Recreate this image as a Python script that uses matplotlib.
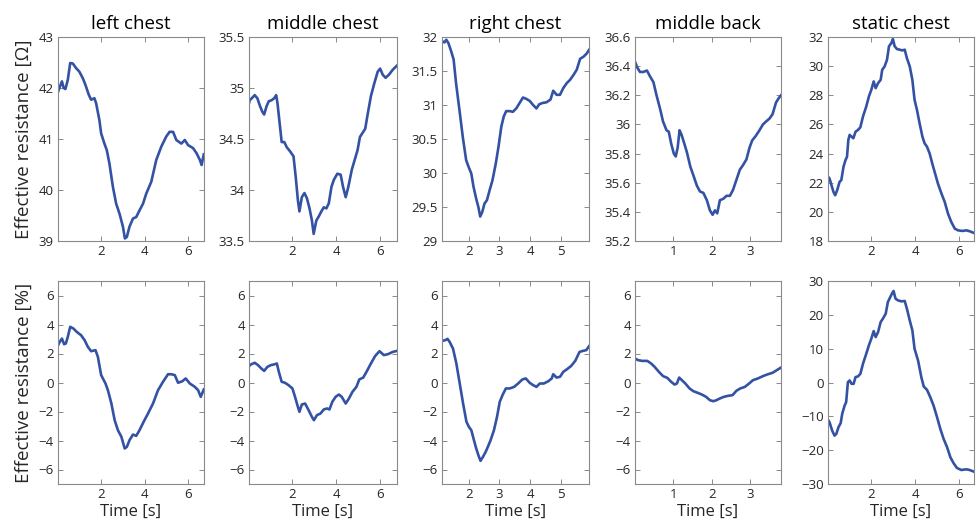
import matplotlib
matplotlib.use('Agg')
import matplotlib.pyplot as plt

plt.rcParams['font.family'] = ['Open Sans', 'DejaVu Sans']

titles = ['left chest', 'middle chest', 'right chest', 'middle back', 'static chest']

# left chest
lc_t = [0.0, 0.1, 0.2, 0.28, 0.36, 0.47, 0.58, 0.7, 0.85, 1.0, 1.16, 1.28, 1.43, 1.54,
        1.69, 1.77, 1.92, 2.0, 2.15, 2.26, 2.38, 2.54, 2.69, 2.84, 3.0, 3.09, 3.18, 3.3,
        3.46, 3.61, 3.76, 3.92, 4.07, 4.3, 4.53, 4.76, 4.99, 5.14, 5.3, 5.45, 5.68, 5.84,
        5.99, 6.22, 6.38, 6.53, 6.61, 6.71]
lc_ohm = [41.9, 42.02, 42.13, 42.0, 41.98, 42.16, 42.49, 42.48, 42.39, 42.32, 42.19, 42.06,
          41.87, 41.77, 41.8, 41.7, 41.37, 41.11, 40.91, 40.78, 40.52, 40.06, 39.73, 39.54,
          39.28, 39.05, 39.08, 39.28, 39.44, 39.47, 39.6, 39.73, 39.93, 40.16, 40.59, 40.85,
          41.05, 41.14, 41.14, 40.98, 40.91, 40.98, 40.88, 40.82, 40.72, 40.59, 40.49, 40.7]
lc_t2 = [0.0, 0.1, 0.2, 0.3, 0.38, 0.47, 0.58, 0.73, 0.88, 1.08, 1.24, 1.39, 1.54, 1.74,
         1.85, 2.0, 2.2, 2.31, 2.47, 2.62, 2.77, 2.93, 3.08, 3.18, 3.3, 3.46, 3.61, 3.76,
         3.95, 4.15, 4.38, 4.61, 4.84, 5.07, 5.22, 5.38, 5.53, 5.73, 5.88, 6.07, 6.3, 6.45,
         6.57, 6.71]
lc_pct = [2.5, 2.8, 3.03, 2.64, 2.69, 3.15, 3.84, 3.72, 3.49, 3.26, 2.92, 2.46, 2.16, 2.23,
          1.77, 0.51, -0.07, -0.53, -1.45, -2.6, -3.29, -3.75, -4.55, -4.44, -3.98, -3.59,
          -3.68, -3.29, -2.71, -2.14, -1.45, -0.53, 0.05, 0.57, 0.57, 0.51, -0.02, 0.09, 0.28,
          -0.07, -0.3, -0.53, -0.99, -0.48]

# middle chest
mc_t = [0.0, 0.05, 0.15, 0.28, 0.4, 0.51, 0.62, 0.71, 0.82, 0.92, 1.05, 1.17, 1.26, 1.32,
        1.42, 1.51, 1.63, 1.74, 1.89, 2.05, 2.15, 2.25, 2.32, 2.43, 2.55, 2.66, 2.78, 2.89,
        2.97, 3.09, 3.2, 3.32, 3.43, 3.55, 3.66, 3.78, 3.89, 4.05, 4.2, 4.31, 4.43, 4.55,
        4.71, 4.86, 4.97, 5.08, 5.2, 5.32, 5.43, 5.58, 5.74, 5.89, 6.0, 6.12, 6.25, 6.4,
        6.58, 6.77]
mc_ohm = [34.83, 34.88, 34.9, 34.93, 34.9, 34.83, 34.77, 34.74, 34.82, 34.87, 34.88, 34.9,
          34.93, 34.85, 34.65, 34.47, 34.47, 34.42, 34.38, 34.33, 34.13, 33.9, 33.79, 33.93,
          33.97, 33.92, 33.82, 33.7, 33.57, 33.7, 33.74, 33.79, 33.83, 33.82, 33.87, 34.03,
          34.1, 34.16, 34.15, 34.03, 33.93, 34.03, 34.2, 34.31, 34.39, 34.52, 34.56, 34.6,
          34.74, 34.92, 35.05, 35.16, 35.19, 35.13, 35.1, 35.13, 35.18, 35.22]
mc_t2 = [0.0, 0.1, 0.28, 0.43, 0.58, 0.71, 0.86, 1.02, 1.2, 1.29, 1.38, 1.51, 1.66, 1.82,
         2.0, 2.12, 2.25, 2.32, 2.43, 2.58, 2.74, 2.89, 2.98, 3.12, 3.28, 3.43, 3.58, 3.69,
         3.82, 3.97, 4.12, 4.25, 4.43, 4.58, 4.74, 4.92, 5.05, 5.23, 5.38, 5.58, 5.77, 5.97,
         6.17, 6.35, 6.58, 6.77]
mc_pct = [1.08, 1.24, 1.36, 1.2, 0.97, 0.8, 1.08, 1.2, 1.26, 1.31, 0.74, 0.05, -0.02, -0.18,
          -0.41, -0.99, -1.68, -2.02, -1.52, -1.45, -1.91, -2.37, -2.6, -2.25, -2.14, -1.86,
          -1.79, -1.86, -1.33, -0.99, -0.83, -0.99, -1.45, -1.1, -0.64, -0.3, 0.21, 0.34,
          0.74, 1.31, 1.82, 2.16, 1.89, 1.95, 2.11, 2.18]

# right chest
rc_t = [1.12, 1.2, 1.26, 1.33, 1.42, 1.5, 1.58, 1.69, 1.8, 1.91, 1.99, 2.08, 2.15, 2.24,
        2.31, 2.37, 2.44, 2.51, 2.59, 2.68, 2.77, 2.88, 2.97, 3.06, 3.14, 3.22, 3.33, 3.44,
        3.55, 3.66, 3.77, 3.88, 3.99, 4.1, 4.21, 4.3, 4.41, 4.54, 4.67, 4.76, 4.87, 4.98,
        5.09, 5.2, 5.31, 5.42, 5.53, 5.64, 5.75, 5.86, 5.93]
rc_ohm = [31.94, 31.92, 31.96, 31.91, 31.79, 31.67, 31.32, 30.93, 30.53, 30.19, 30.09, 29.99,
          29.8, 29.62, 29.5, 29.36, 29.43, 29.55, 29.6, 29.75, 29.89, 30.14, 30.39, 30.68,
          30.83, 30.91, 30.91, 30.9, 30.95, 31.03, 31.11, 31.09, 31.06, 31.0, 30.95, 31.01,
          31.03, 31.04, 31.08, 31.21, 31.15, 31.15, 31.25, 31.32, 31.37, 31.44, 31.52, 31.68,
          31.71, 31.76, 31.81]
rc_t2 = [1.12, 1.23, 1.3, 1.37, 1.48, 1.59, 1.7, 1.81, 1.92, 2.0, 2.08, 2.15, 2.24, 2.31,
         2.38, 2.46, 2.55, 2.62, 2.71, 2.82, 2.92, 3.01, 3.1, 3.21, 3.34, 3.48, 3.61, 3.75,
         3.86, 3.99, 4.1, 4.21, 4.32, 4.45, 4.6, 4.71, 4.76, 4.87, 4.98, 5.09, 5.2, 5.34,
         5.48, 5.62, 5.73, 5.84, 5.93]
rc_pct = [2.87, 2.92, 3.01, 2.8, 2.34, 1.31, -0.07, -1.45, -2.71, -3.06, -3.29, -3.86, -4.55,
          -5.01, -5.4, -5.13, -4.78, -4.44, -3.98, -3.29, -2.37, -1.33, -0.87, -0.41, -0.41,
          -0.3, -0.07, 0.21, 0.28, -0.02, -0.18, -0.3, -0.07, -0.07, 0.09, 0.28, 0.57, 0.34,
          0.39, 0.74, 0.9, 1.13, 1.49, 2.11, 2.18, 2.23, 2.5]

# middle back
mb_t = [0.0, 0.06, 0.13, 0.22, 0.31, 0.39, 0.48, 0.56, 0.65, 0.73, 0.82, 0.88, 0.94, 1.01,
        1.06, 1.11, 1.16, 1.21, 1.27, 1.35, 1.44, 1.52, 1.61, 1.69, 1.78, 1.87, 1.95, 2.02,
        2.08, 2.14, 2.21, 2.3, 2.38, 2.47, 2.55, 2.64, 2.73, 2.81, 2.9, 2.98, 3.05, 3.14,
        3.24, 3.33, 3.41, 3.5, 3.58, 3.67, 3.74, 3.8]
mb_ohm = [36.43, 36.39, 36.36, 36.36, 36.37, 36.33, 36.29, 36.2, 36.11, 36.02, 35.96, 35.95,
          35.87, 35.8, 35.78, 35.84, 35.96, 35.93, 35.88, 35.81, 35.71, 35.65, 35.58, 35.54,
          35.53, 35.48, 35.41, 35.38, 35.41, 35.39, 35.48, 35.49, 35.51, 35.51, 35.55, 35.62,
          35.69, 35.72, 35.76, 35.84, 35.89, 35.92, 35.96, 36.0, 36.02, 36.04, 36.07, 36.15,
          36.18, 36.2]
mb_t2 = [0.0, 0.08, 0.19, 0.32, 0.42, 0.51, 0.62, 0.73, 0.84, 0.94, 1.03, 1.09, 1.15, 1.22,
         1.31, 1.42, 1.52, 1.63, 1.74, 1.85, 1.95, 2.04, 2.12, 2.21, 2.31, 2.42, 2.54, 2.64,
         2.74, 2.86, 2.97, 3.07, 3.2, 3.33, 3.46, 3.58, 3.69, 3.8]
mb_pct = [1.66, 1.54, 1.49, 1.49, 1.31, 1.08, 0.74, 0.44, 0.32, 0.05, -0.14, -0.07, 0.34,
          0.16, -0.07, -0.41, -0.6, -0.71, -0.83, -0.99, -1.22, -1.29, -1.22, -1.1, -0.99,
          -0.92, -0.87, -0.57, -0.41, -0.3, -0.07, 0.16, 0.28, 0.44, 0.57, 0.67, 0.85, 1.03]

# static chest
sc_t = [0.0, 0.09, 0.18, 0.27, 0.35, 0.44, 0.55, 0.63, 0.73, 0.82, 0.89, 0.95, 1.01, 1.1,
        1.18, 1.28, 1.39, 1.5, 1.62, 1.77, 1.89, 2.0, 2.11, 2.2, 2.31, 2.43, 2.5, 2.61, 2.72,
        2.81, 2.92, 2.99, 3.07, 3.18, 3.3, 3.42, 3.53, 3.63, 3.76, 3.88, 3.98, 4.09, 4.21,
        4.34, 4.44, 4.55, 4.67, 4.79, 4.92, 5.05, 5.21, 5.36, 5.51, 5.66, 5.82, 5.97, 6.17,
        6.35, 6.5, 6.7]
sc_ohm = [22.45, 22.29, 21.83, 21.37, 21.14, 21.49, 22.06, 22.18, 23.1, 23.55, 23.78, 24.93,
          25.28, 25.16, 25.05, 25.5, 25.62, 25.8, 26.54, 27.23, 27.91, 28.37, 28.95, 28.49,
          28.83, 29.06, 29.75, 29.98, 30.44, 31.36, 31.59, 31.86, 31.36, 31.17, 31.13, 31.08,
          31.13, 30.55, 29.98, 29.06, 27.69, 27.0, 26.08, 25.16, 24.7, 24.47, 24.01, 23.32,
          22.63, 21.94, 21.26, 20.68, 19.88, 19.31, 18.85, 18.73, 18.69, 18.73, 18.67, 18.55]
sc_t2 = [0.0, 0.09, 0.21, 0.32, 0.4, 0.5, 0.6, 0.67, 0.78, 0.85, 0.93, 1.01, 1.1, 1.19, 1.28,
         1.39, 1.5, 1.62, 1.77, 1.89, 2.0, 2.11, 2.2, 2.31, 2.43, 2.53, 2.66, 2.76, 2.87,
         2.96, 3.02, 3.11, 3.22, 3.37, 3.53, 3.63, 3.76, 3.88, 3.98, 4.14, 4.29, 4.4, 4.55,
         4.7, 4.85, 5.01, 5.16, 5.31, 5.47, 5.62, 5.77, 5.92, 6.12, 6.35, 6.5, 6.7]
sc_pct = [-10.76, -11.75, -14.21, -15.7, -15.2, -13.2, -12.0, -9.28, -6.81, -5.82, 0.1, 0.6,
          -0.4, -0.4, 1.6, 1.8, 2.57, 5.53, 8.49, 10.96, 12.93, 15.2, 13.43, 14.9, 17.87,
          18.85, 20.33, 23.79, 25.27, 26.46, 27.05, 24.78, 24.28, 23.99, 24.09, 21.82, 18.36,
          15.4, 9.97, 6.52, 1.58, -1.18, -2.17, -4.34, -6.81, -10.27, -13.72, -16.68, -19.15,
          -22.11, -23.89, -25.27, -25.86, -25.66, -25.86, -26.36]

top_x = [lc_t, mc_t, rc_t, mb_t, sc_t]
top_y = [lc_ohm, mc_ohm, rc_ohm, mb_ohm, sc_ohm]
bot_x = [lc_t2, mc_t2, rc_t2, mb_t2, sc_t2]
bot_y = [lc_pct, mc_pct, rc_pct, mb_pct, sc_pct]

xlims = [(0.02, 6.72), (0.02, 6.77), (1.12, 5.93), (0.0, 3.8), (0.02, 6.7)]
xticks = [[2, 4, 6], [2, 4, 6], [2, 3, 4, 5], [1, 2, 3], [2, 4, 6]]
top_ylims = [(39, 43), (33.5, 35.5), (29, 32), (35.2, 36.6), (18, 32)]
top_yticks = [[39, 40, 41, 42, 43], [33.5, 34, 34.5, 35, 35.5],
              [29, 29.5, 30, 30.5, 31, 31.5, 32], [35.2, 35.4, 35.6, 35.8, 36, 36.2, 36.4, 36.6],
              [18, 20, 22, 24, 26, 28, 30, 32]]
top_yticklabels = [['39', '40', '41', '42', '43'], ['33.5', '34', '34.5', '35', '35.5'],
                   ['29', '29.5', '30', '30.5', '31', '31.5', '32'],
                   ['35.2', '35.4', '35.6', '35.8', '36', '36.2', '36.4', '36.6'],
                   ['18', '20', '22', '24', '26', '28', '30', '32']]
bot_ylims = [(-7, 7)] * 4 + [(-30, 30)]
bot_yticks = [[-6, -4, -2, 0, 2, 4, 6]] * 4 + [[-30, -20, -10, 0, 10, 20, 30]]

W, H = 977, 530
lefts = [58, 249, 442, 635, 828]
rights = [204, 397, 589, 781, 974]
rows = [(37, 241), (281, 484)]

line_color = '#3452a4'
spine_color = '#8a8a8a'
text_color = '#262626'

fig = plt.figure(figsize=(W / 100, H / 100), dpi=100)


def style(ax):
    for s in ax.spines.values():
        s.set_color(spine_color)
        s.set_linewidth(0.8)
    ax.tick_params(direction='in', top=True, right=True, length=3.5, width=0.7,
                   color=spine_color, labelcolor=text_color, labelsize=9.5, pad=3)


for i in range(5):
    for r, (y0, y1) in enumerate(rows):
        ax = fig.add_axes([lefts[i] / W, 1 - y1 / H, (rights[i] - lefts[i]) / W, (y1 - y0) / H])
        if r == 0:
            ax.plot(top_x[i], top_y[i], color=line_color, lw=1.9)
            ax.set_ylim(*top_ylims[i])
            ax.set_yticks(top_yticks[i])
            ax.set_yticklabels(top_yticklabels[i])
            ax.set_title(titles[i], fontsize=13.5, color='black', pad=6)
            if i == 0:
                ax.set_ylabel('Effective resistance [\u03a9]', fontsize=13.5, color=text_color)
        else:
            ax.plot(bot_x[i], bot_y[i], color=line_color, lw=1.9)
            ax.set_ylim(*bot_ylims[i])
            ax.set_yticks(bot_yticks[i])
            ax.set_xlabel('Time [s]', fontsize=12, color=text_color, labelpad=2)
            if i == 0:
                ax.set_ylabel('Effective resistance [%]', fontsize=13.5, color=text_color)
        ax.set_xlim(*xlims[i])
        ax.set_xticks(xticks[i])
        style(ax)

fig.savefig('out.png', dpi=100)
